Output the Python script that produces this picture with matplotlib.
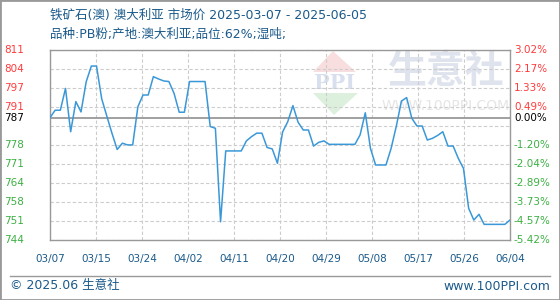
import matplotlib as mpl
mpl.use('Agg')
import matplotlib.pyplot as plt
import matplotlib.transforms as mtransforms
from matplotlib.patches import Polygon, Rectangle
from matplotlib.lines import Line2D
import numpy as np

plt.rcParams['font.family'] = ['DejaVu Sans', 'Noto Sans CJK SC']

title = "铁矿石(澳) 澳大利亚 市场价 2025-03-07 - 2025-06-05"
subtitle = "品种:PB粉;产地:澳大利亚;品位:62%;湿吨;"

# one value per day, 03/07 .. 06/04
prices = [
    787.0, 789.6, 789.6, 797.2, 782.1, 792.6, 789.0, 799.5, 805.0, 805.0,
    793.6, 787.5, 781.5, 775.9, 778.1, 777.5, 777.5, 790.8, 794.9, 794.9,
    801.3, 800.5, 799.8, 799.6, 795.5, 788.9, 788.9, 799.6, 799.6, 799.6,
    799.6, 783.9, 783.3, 750.7, 775.4, 775.4, 775.4, 775.4, 778.9, 780.4,
    781.6, 781.6, 776.6, 776.1, 771.1, 782.0, 785.6, 791.2, 785.4, 782.7,
    782.7, 777.1, 778.4, 778.9, 777.7, 777.7, 777.7, 777.7, 777.7, 777.7,
    781.0, 788.7, 776.3, 770.5, 770.5, 770.5, 776.3, 784.0, 792.8, 794.0,
    786.8, 784.1, 784.1, 779.2, 779.8, 780.8, 782.1, 777.1, 777.1, 772.8,
    769.3, 755.4, 751.3, 753.3, 749.8, 749.8, 749.8, 749.8, 749.8, 751.3,
]
base = 787
date_labels = ["03/07", "03/15", "03/24", "04/02", "04/11", "04/20",
               "04/29", "05/08", "05/17", "05/26", "06/04"]
left_labels = ["744", "751", "758", "764", "771", "778", "", "791", "797", "804", "811"]
right_labels = ["-5.42%", "-4.57%", "-3.73%", "-2.89%", "-2.04%", "-1.20%", "",
                "0.49%", "1.33%", "2.17%", "3.02%"]

W, H = 560, 300
blue_txt = '#1b5a8a'
red = '#ff3b3b'
green = '#3cb043'


def px(x, y):
    return (x / W, 1 - y / H)


fig = plt.figure(figsize=(W / 100, H / 100), dpi=100)
ax = fig.add_axes([50 / W, 1 - 240 / H, 460 / W, 190.5 / H])
ax.set_facecolor('none')

days = np.arange(len(prices))
ymin, ymax = base * (1 - 0.0542), base * (1 + 0.0302)
levels = np.linspace(ymin, ymax, 11)
xticks = np.linspace(0, len(prices) - 1, 11)

ax.plot(days, prices, color='#3a98d8', lw=1.1, zorder=3)
ax.axhline(base, color='#999999', lw=1.3, zorder=2)
ax.set_xlim(0, len(prices) - 1)
ax.set_ylim(ymin, ymax)

ax.set_yticks(levels)
ax.set_yticklabels([])
ax.set_xticks(xticks)
ax.set_xticklabels(date_labels, fontsize=7.5, color=blue_txt)
ax.tick_params(length=0, pad=10)
ax.set_axisbelow(True)
ax.grid(True, color='#cccccc', ls=(0, (3, 2)), lw=0.8)
for s in ax.spines.values():
    s.set_color('#999999')
    s.set_linewidth(1)

# value labels on both sides
tl = mtransforms.blended_transform_factory(fig.transFigure, ax.transData)
for i, lv in enumerate(levels):
    c = green if lv < base else red
    ax.text(4 / W, lv, left_labels[i], transform=tl, color=c, fontsize=7.5,
            va='center', ha='left')
    ax.text(514 / W, lv, right_labels[i], transform=tl, color=c, fontsize=7.5,
            va='center', ha='left')
ax.text(4 / W, base, str(base), transform=tl, color='black', fontsize=7.5,
        va='center', ha='left')
ax.text(514 / W, base, "0.00%", transform=tl, color='black', fontsize=7.5,
        va='center', ha='left')

# watermark
ft = fig.transFigure
ax.add_patch(Polygon([px(313, 72), px(356, 72), px(333, 51)], closed=True,
                     transform=ft, color='#f8dede', zorder=0, lw=0))
ax.add_patch(Polygon([px(313, 93), px(358, 93), px(334, 115)], closed=True,
                     transform=ft, color='#ddf0dd', zorder=0, lw=0))
ax.text(*px(335, 83), "PPI", transform=ft, fontsize=15, fontweight='bold',
        family='DejaVu Serif', color='#d8dfee', ha='center', va='center', zorder=0)
ax.text(*px(446, 72), "生意社", transform=ft, fontsize=28, fontweight='bold',
        family='Noto Sans CJK SC', color='#dfe3ed', ha='center', va='center', zorder=0)
ax.text(*px(446, 106), "WWW.100PPI.COM", transform=ft, fontsize=10,
        color='#e5e5e5', ha='center', va='center', zorder=0)

# titles and footer
fig.text(*px(50, 15), title, fontsize=9, color=blue_txt, ha='left', va='center')
fig.text(*px(50, 34), subtitle, fontsize=9, color=blue_txt, ha='left', va='center')
fig.add_artist(Line2D([10 / W, 550 / W], [1 - 275.5 / H] * 2, transform=ft,
                      color='#999999', lw=1))
fig.text(*px(10, 286), "© 2025.06 生意社", fontsize=9, color=blue_txt,
         ha='left', va='center')
fig.text(*px(550, 286), "www.100PPI.com", fontsize=9, color=blue_txt,
         ha='right', va='center')
fig.add_artist(Rectangle((0, 0), 1, 1, transform=ft, fill=False,
                         edgecolor='#999999', lw=2))

fig.savefig('out.png', dpi=100)
plt.close()
